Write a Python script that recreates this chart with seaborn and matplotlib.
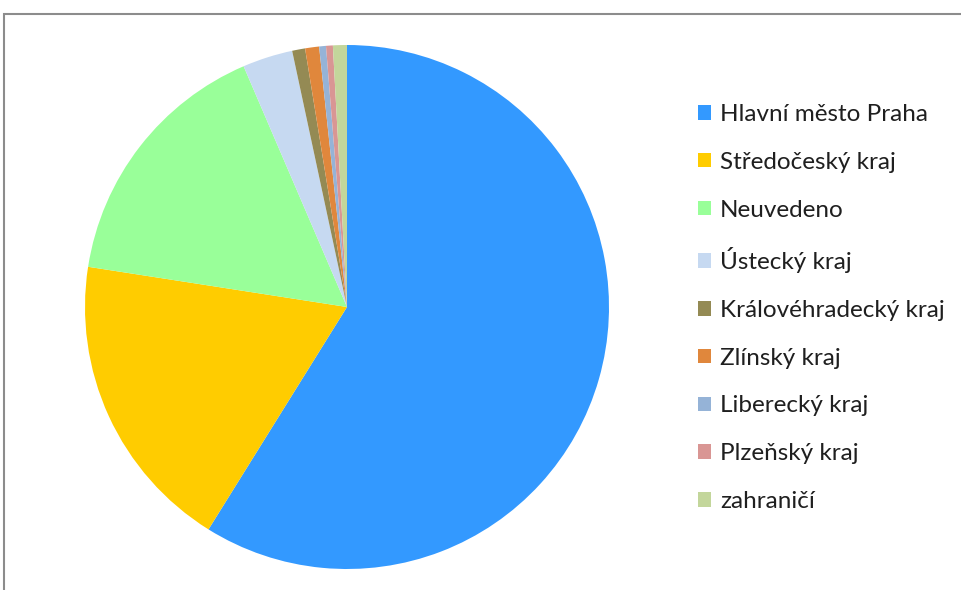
import matplotlib
matplotlib.use("Agg")
import matplotlib.pyplot as plt
import seaborn as sns
from matplotlib.patches import Rectangle

# data
kraje = ["Hlavní město Praha", "Středočeský kraj", "Neuvedeno", "Ústecký kraj",
         "Královéhradecký kraj", "Zlínský kraj", "Liberecký kraj", "Plzeňský kraj",
         "zahraničí"]
podil = [58.9, 18.6, 16.1, 3.1, 0.8, 0.86, 0.42, 0.42, 0.86]
barvy = ["#3399FF", "#FFCC00", "#99FF99", "#C6D9F1", "#948A54",
         "#E0873C", "#95B3D7", "#D99694", "#C3D69B"]

sns.set_theme(style="white")
plt.rcParams['font.family'] = ['Lato', 'DejaVu Sans']

fig = plt.figure(figsize=(9.62, 5.9), dpi=100)
fig.patch.set_facecolor("white")

# ramecek grafu
fig.patches.append(Rectangle((4 / 962, -0.1), 1.2, 1 - 14 / 590 + 0.1,
                             transform=fig.transFigure, fill=False,
                             edgecolor="#8C8C8C", linewidth=1.5))

ax = fig.add_axes([85 / 962, 21 / 590, 524 / 962, 524 / 590])
wedges, _ = ax.pie(podil, colors=barvy, startangle=90, counterclock=False,
                   wedgeprops=dict(linewidth=0))
ax.set_xlim(-1, 1)
ax.set_ylim(-1, 1)
ax.set_aspect("equal")

fig.legend(wedges, kraje, loc="center left", bbox_to_anchor=(698 / 962, 0.478),
           frameon=False, fontsize=17.5, handlelength=0.55, handleheight=0.55,
           handletextpad=0.35, labelspacing=1.10, borderpad=0, borderaxespad=0,
           labelcolor="#1f1f1f")

fig.savefig("out.png", dpi=100)
